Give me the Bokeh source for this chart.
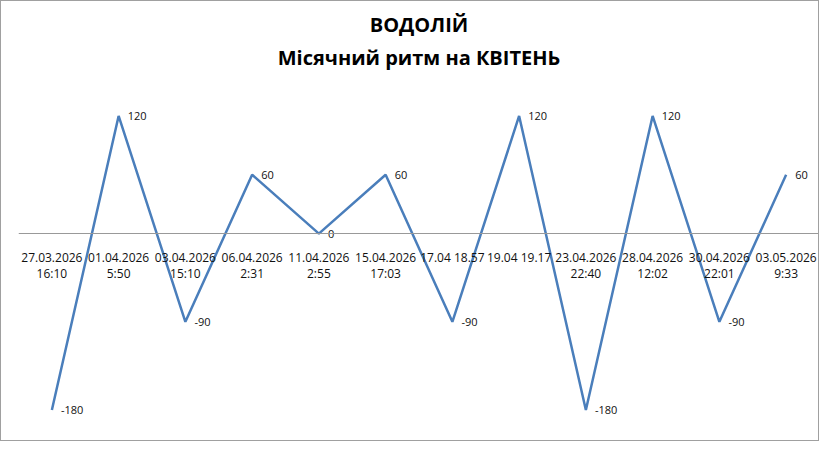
from bokeh.plotting import figure
from bokeh.models import FactorRange, Range1d, Title, ColumnDataSource
from bokeh.core.properties import value
from bokeh.embed import file_html
from bokeh.resources import INLINE

dates = ["27.03.2026\n16:10", "01.04.2026\n5:50", "03.04.2026\n15:10", "06.04.2026\n2:31",
         "11.04.2026\n2:55", "15.04.2026\n17:03", "17.04 18.57", "19.04 19.17",
         "23.04.2026\n22:40", "28.04.2026\n12:02", "30.04.2026\n22:01", "03.05.2026\n9:33"]
values = [-180, 120, -90, 60, 0, 60, -90, 120, -180, 120, -90, 60]
labels = [str(v) for v in values]

title_main = "ВОДОЛІЙ"
title_sub = "Місячний ритм на КВІТЕНЬ"

src = ColumnDataSource(data=dict(dates=dates, values=values, labels=labels))

p = figure(x_range=FactorRange(factors=dates), y_range=Range1d(-185.6, 162.3),
           width=819, height=441, output_backend="svg", toolbar_location=None,
           y_axis_location=None, min_border_left=17, min_border_right=1,
           min_border_bottom=27, min_border_top=0, background_fill_color="white",
           border_fill_color="white")
p.styles = {"border": "1px solid #a0a0a0"}
p.grid.visible = False
p.outline_line_color = None

# top spacer
p.title.text = " "
p.title.text_font_size = "4px"
p.title.standoff = 0

p.add_layout(Title(text=title_sub, align="center", text_font="Open Sans",
                   text_font_size="20px", text_font_style="bold", text_color="black",
                   standoff=8), "above")
p.add_layout(Title(text=title_main, align="center", text_font="Open Sans",
                   text_font_size="20px", text_font_style="bold", text_color="black",
                   standoff=0), "above")

p.xaxis.fixed_location = 0
p.xaxis.axis_line_color = "#999999"
p.xaxis.axis_line_width = 1
p.xaxis.major_tick_line_color = None
p.xaxis.major_tick_in = 0
p.xaxis.major_tick_out = 0
p.xaxis.major_label_standoff = 15
p.xaxis.major_label_text_font = "Open Sans"
p.xaxis.major_label_text_font_size = "12px"
p.xaxis.major_label_text_line_height = 0.95
p.xaxis.major_label_text_color = "#111111"

p.line(x="dates", y="values", source=src, line_color="#4a7ebb", line_width=2.5)
p.text(x="dates", y="values", text="labels", source=src, x_offset=9,
       text_baseline="middle", text_align="left", text_font=value("Open Sans"),
       text_font_size="11px", text_color="#111111")

open("out.html", "w").write(file_html(p, INLINE))
